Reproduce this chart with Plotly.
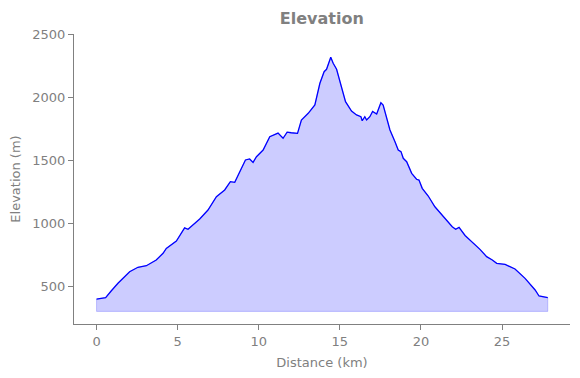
import plotly.graph_objects as go

distance_km = [0.0, 0.56, 0.9, 1.32, 2.04, 2.55, 3.07, 3.68, 4.1, 4.3, 4.92, 5.43, 5.64, 5.84,
               6.36, 6.87, 7.39, 7.9, 8.25, 8.52, 8.73, 8.93, 9.18, 9.44, 9.65, 9.86, 10.27,
               10.68, 10.95, 11.19, 11.5, 11.75, 12.0, 12.39, 12.63, 13.05, 13.46, 13.77,
               14.03, 14.18, 14.44, 14.59, 14.8, 15.1, 15.35, 15.72, 16.03, 16.3, 16.38,
               16.54, 16.65, 16.85, 17.02, 17.27, 17.53, 17.67, 17.88, 18.09, 18.4, 18.6,
               18.77, 18.91, 19.12, 19.43, 19.73, 19.88, 20.08, 20.45, 20.86, 21.48, 21.93,
               22.14, 22.35, 22.72, 23.23, 23.64, 24.05, 24.4, 24.67, 25.19, 25.8, 26.42,
               27.04, 27.28, 27.82]
elevation_m = [398, 409, 462, 523, 615, 650, 662, 708, 761, 800, 858, 962, 951, 972,
               1033, 1104, 1210, 1263, 1329, 1324, 1382, 1435, 1501, 1509, 1482, 1527, 1580,
               1686, 1699, 1714, 1673, 1722, 1717, 1712, 1818, 1871, 1937, 2109,
               2201, 2220, 2315, 2268, 2220, 2082, 1963, 1889, 1858, 1844, 1812,
               1844, 1818, 1844, 1886, 1866, 1955, 1937, 1844, 1739, 1646, 1580,
               1567, 1514, 1487, 1395, 1348, 1342, 1276, 1215, 1130, 1038, 972,
               951, 966, 902, 845, 792, 734, 708, 681, 673, 636, 562,
               470, 422, 409]
BASE_ELEVATION = 300

x_ticks = [0, 5, 10, 15, 20, 25]
y_ticks = [500, 1000, 1500, 2000, 2500]

GREY = "#808080"
FONT = "DejaVu Sans"

fig = go.Figure()
fig.add_trace(go.Scatter(
    x=[distance_km[0]] + distance_km + [distance_km[-1], distance_km[0]],
    y=[BASE_ELEVATION] + elevation_m + [BASE_ELEVATION, BASE_ELEVATION],
    fill="toself", fillcolor="rgba(0,0,255,0.2)",
    line=dict(color="rgba(0,0,255,0.2)", width=1),
    mode="lines", hoverinfo="skip", showlegend=False))
fig.add_trace(go.Scatter(
    x=distance_km, y=elevation_m, mode="lines",
    line=dict(color="#0000ff", width=1.3), showlegend=False))

axis_common = dict(showline=True, linecolor=GREY, linewidth=1, ticks="outside",
                   ticklen=5, tickcolor=GREY, tickwidth=1, showgrid=False, zeroline=False,
                   tickfont=dict(family=FONT, size=13, color=GREY),
                   mirror=False, automargin=False)
fig.update_xaxes(range=[-1.39, 29.19], tickvals=x_ticks,
                 title=dict(text="Distance (km)", font=dict(family=FONT, size=13, color=GREY), standoff=10),
                 **axis_common)
fig.update_yaxes(range=[200, 2500], tickvals=y_ticks,
                 title=dict(text="Elevation (m)", font=dict(family=FONT, size=13, color=GREY), standoff=8),
                 **axis_common)
# page body has an 8px margin: offsets compensate so the plot lands where the reference has it
fig.update_layout(
    width=580, height=378,
    margin=dict(l=66, r=18, t=26, b=62),
    plot_bgcolor="white", paper_bgcolor="white",
    title=dict(text="<b>Elevation</b>", x=0.541, xanchor="center", y=1 - 10 / 378, yanchor="middle",
               font=dict(family=FONT, size=16, color=GREY)),
    font=dict(family=FONT, color=GREY),
)
fig.write_html("out.html")
